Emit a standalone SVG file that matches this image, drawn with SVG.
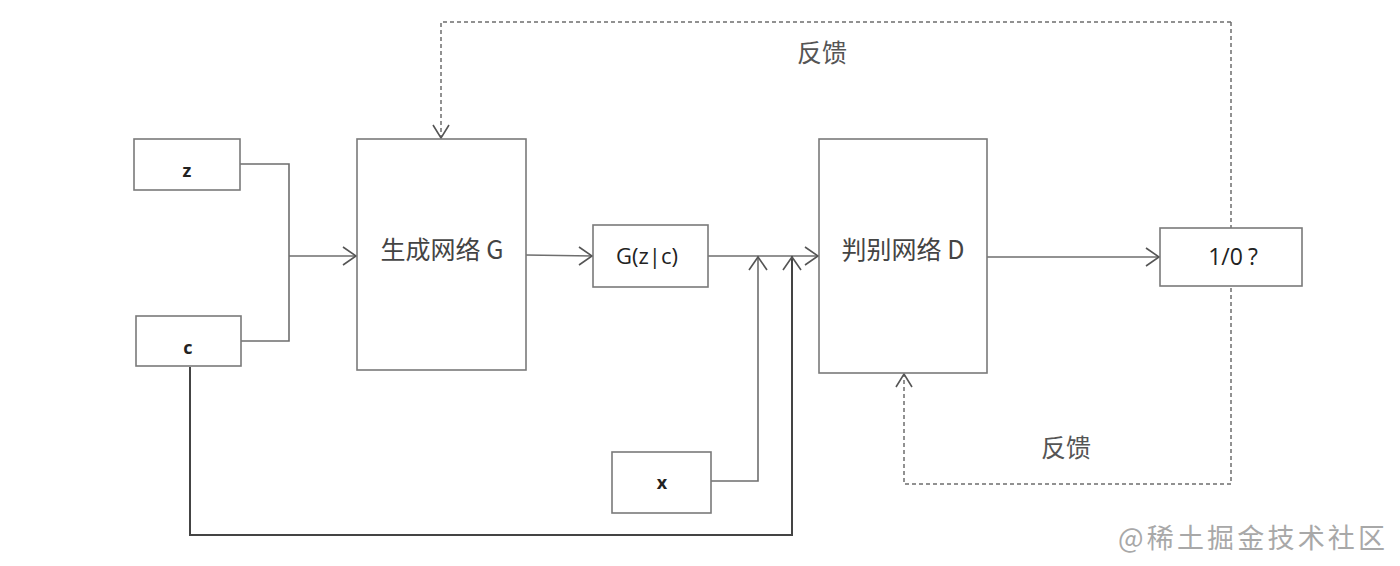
<svg xmlns="http://www.w3.org/2000/svg" width="1400" height="566" viewBox="0 0 1400 566">
<style>
.box{fill:#fff;stroke:#7a7a7a;stroke-width:1.6}
.ln{fill:none;stroke:#6e6e6e;stroke-width:1.6}
.dash{fill:none;stroke:#6e6e6e;stroke-width:1.5;stroke-dasharray:4 3}
.ah{fill:none;stroke:#555;stroke-width:1.6}
.t{font-family:"Open Sans","Noto Sans","Noto Sans CJK SC",sans-serif;fill:#222;text-anchor:middle}
.cn{font-family:"Noto Sans CJK SC","Noto Sans",sans-serif;fill:#555;text-anchor:middle;font-size:25px}
.wm{font-family:"Noto Sans CJK SC",sans-serif;fill:#a8a8a8;font-size:27px}
</style>
<rect width="1400" height="566" fill="#fff"/>
<g id="connectors">
  <polyline class="ln" points="240,164 289,164 289,341 241,341"/>
  <line class="ln" x1="289" y1="256" x2="357" y2="256"/>
  <polyline class="ah" points="343,247 356,256 343,265"/>
  <line class="ln" x1="526" y1="255" x2="593" y2="256"/>
  <polyline class="ah" points="579,247 592,256 579,265"/>
  <line class="ln" x1="708" y1="256" x2="819" y2="256"/>
  <polyline class="ah" points="805,247 818,256 805,265"/>
  <polyline class="ln" points="711,481 758,481 758,256"/>
  <polyline class="ah" points="749,270 758,257 767,270"/>
  <polyline class="ln" points="190,367 190,535 792,535 792,256" style="stroke:#444;stroke-width:2"/>
  <polyline class="ah" points="783,270 792,257 801,270"/>
  <line class="ln" x1="987" y1="257" x2="1160" y2="257"/>
  <polyline class="ah" points="1146,248 1159,257 1146,266"/>
  <polyline class="dash" points="1231,22 441,22 441,138"/>
  <polyline class="ah" points="433,125 441,138 449,125"/>
  <polyline class="dash" points="1231,22 1231,484 904,484 904,374"/>
  <polyline class="ah" points="896,387 904,374 912,387"/>
</g>
<g id="node-z"><rect class="box" x="134" y="139" width="106" height="51"/><text class="t" x="187" y="177" font-size="18" font-weight="bold">z</text></g>
<g id="node-c"><rect class="box" x="136" y="316" width="105" height="50"/><text class="t" x="188" y="354" font-size="18" font-weight="bold">c</text></g>
<g id="node-G"><rect class="box" x="357" y="139" width="169" height="231"/><text class="cn" x="442" y="259" style="fill:#444">生成网络 G</text></g>
<g id="node-Gzc"><rect class="box" x="593" y="225" width="115" height="62"/><text class="t" x="647" y="264" font-size="22">G(z|c)</text></g>
<g id="node-x"><rect class="box" x="612" y="452" width="99" height="61"/><text class="t" x="662" y="489" font-size="18" font-weight="bold">x</text></g>
<g id="node-D"><rect class="box" x="819" y="139" width="168" height="234"/><text class="cn" x="903" y="259" style="fill:#444">判别网络 D</text></g>
<g id="node-out"><rect class="box" x="1160" y="228" width="142" height="58"/><text class="t" x="1233" y="265" font-size="23">1/0<tspan dx="5">?</tspan></text></g>
<g id="labels">
  <text class="cn" x="822" y="62">反馈</text>
  <text class="cn" x="1066" y="457">反馈</text>
  <text class="wm" x="1118" y="548" textLength="267" lengthAdjust="spacing">@稀土掘金技术社区</text>
</g>
</svg>
